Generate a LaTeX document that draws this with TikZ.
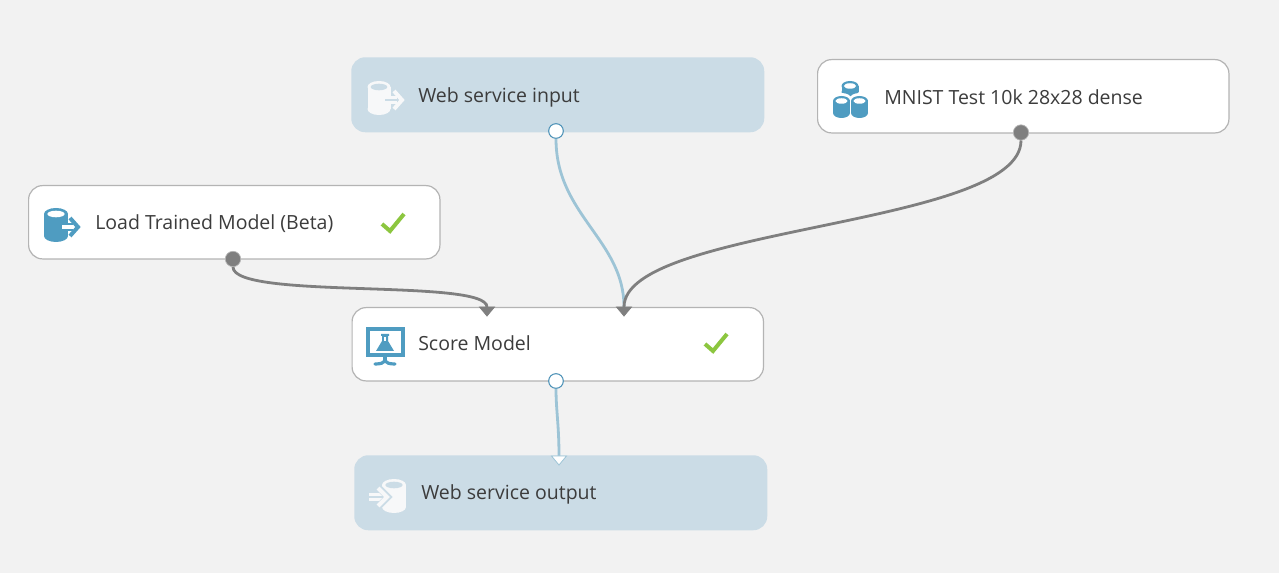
\documentclass[tikz,border=0pt]{standalone}
\usepackage{fontspec}
\setmainfont{Open Sans}
\usetikzlibrary{calc}
\definecolor{canvas}{HTML}{F2F2F2}
\definecolor{pale}{HTML}{CBDCE6}
\definecolor{edge}{HTML}{B4B4B4}
\definecolor{ink}{HTML}{3C3C3C}
\definecolor{iconblue}{HTML}{4F9CC1}
\definecolor{okgreen}{HTML}{8CC63F}
\definecolor{wire}{HTML}{7F7F7F}
\definecolor{lightwire}{HTML}{9DC4D6}
\definecolor{ghost}{HTML}{F7F8F9}
\definecolor{portblue}{HTML}{4F93B8}
\tikzset{
  x=0.75pt,y=-0.75pt,
  whitebox/.style={rectangle,rounded corners=10.5pt,anchor=north west,minimum width=308.5pt,minimum height=55pt,inner sep=0pt,fill=white,draw=edge,line width=0.9pt},
  palebox/.style={rectangle,rounded corners=10.5pt,anchor=north west,minimum width=309.75pt,minimum height=56.25pt,inner sep=0pt,fill=pale},
  label/.style={anchor=base west,inner sep=0pt,text=ink,font=\fontsize{14.63pt}{17pt}\selectfont},
  grayport/.style={circle,fill=wire,draw=edge,line width=0.5pt,minimum size=11.5pt,inner sep=0pt},
  openport/.style={circle,fill=white,draw=portblue,line width=0.8pt,minimum size=11pt,inner sep=0pt},
  wiredark/.style={draw=wire,line width=2.1pt},
  wirelight/.style={draw=lightwire,line width=2.1pt},
  tick/.style={draw=okgreen,line width=3pt}
}
\newcommand{\cyl}[7]{% cx, top, bottom, half-width, ry, body colour, top colour
  \fill[#6] (#1-#4,#2) rectangle (#1+#4,#3);
  \fill[#6] (#1,#2) ellipse [x radius=#4,y radius=#5];
  \fill[#6] (#1,#3) ellipse [x radius=#4,y radius=#5];
  \fill[#7] (#1,#2) ellipse [x radius=#4*0.72,y radius=#5*0.55];
}
\newcommand{\tri}[3]{% name, fill, border
  \path[fill=#2,draw=#3,line width=0.6pt] ($(#1)+(-7.5,0)$) -- ($(#1)+(7.5,0)$) -- ($(#1)+(0,9)$) -- cycle;
}
\newcommand{\okmark}[2]{\draw[tick] (#1-11,#2+1) -- (#1-3,#2+8) -- (#1+11,#2-9);}
\begin{document}
\begin{tikzpicture}
\useasboundingbox (0,0) rectangle (1279,573);
\fill[canvas] (0,0) rectangle (1279,573);

\node[palebox] (wsin) at (351,57) {};
\node[whitebox] (mnist) at (817,59) {};
\node[whitebox] (load) at (28,185) {};
\node[whitebox] (score) at (351.5,307) {};
\node[palebox] (wsout) at (354,455) {};

\node[label] (tin) at (418,103) {Web service input};
\node[label] (tmn) at (884,105) {MNIST Test 10k 28x28 dense};
\node[label] (tlo) at (95,230) {Load Trained Model (Beta)};
\node[label] (tsc) at (418,351) {Score Model};
\node[label] (tou) at (421,500) {Web service output};

% icons: Web service input
\cyl{379}{87}{109}{11.5}{6}{ghost}{pale}
\draw[pale,line width=6pt] (385,100) -- (396,100);
\draw[ghost,line width=2pt] (384,97.5) -- (397,97.5) (384,102.5) -- (397,102.5);
\draw[ghost,line width=3pt,miter limit=3] (394,91) -- (402,100) -- (394,109);
% icons: MNIST
\cyl{850}{86}{92}{8.5}{5}{iconblue}{white}
\fill[white] (841.5,99) ellipse [x radius=10,y radius=6];
\fill[white] (859.5,99) ellipse [x radius=10,y radius=6];
\cyl{841.5}{101}{113}{8.5}{5}{iconblue}{white}
\cyl{859.5}{101}{113}{8.5}{5}{iconblue}{white}
% icons: Load
\cyl{56}{214}{236}{12}{6}{iconblue}{white}
\draw[white,line width=5pt] (61,227) -- (72,227);
\draw[iconblue,line width=1.4pt] (61,224) -- (73,224) (61,230) -- (73,230) (61,224) -- (61,230);
\draw[iconblue,line width=3pt,miter limit=3] (70,218) -- (78,227) -- (70,236);
% icons: Score
\draw[iconblue,line width=3pt] (367.5,329.5) rectangle (402.5,355.5);
\draw[iconblue,line width=2.6pt] (385,356) -- (385,362);
\draw[iconblue,line width=2.4pt,line cap=round] (375,364) .. controls (381,364) and (383,363) .. (385,361) .. controls (387,363) and (389,364) .. (395,364);
\fill[iconblue] (381,334) -- (389,334) -- (389,336) -- (388,336) -- (388,341) -- (394,351) -- (376,351) -- (382,341) -- (382,336) -- (381,336) -- cycle;
\fill[white] (383.6,337) rectangle (386.4,341.5);
% icons: Web service output
\cyl{394}{485}{507}{12}{6}{ghost}{pale}
\draw[pale,line width=6.5pt] (369,497) -- (388,497);
\draw[ghost,line width=2.2pt] (369,494.5) -- (388,494.5) (369,499.5) -- (388,499.5);
\draw[pale,line width=5pt,miter limit=3] (378,487) -- (388,497) -- (378,507);
\draw[ghost,line width=3pt,miter limit=3] (378,488) -- (387,497) -- (378,506);

\okmark{393}{223}
\okmark{716}{343}

% ports
\coordinate (in1) at (487,307);
\coordinate (in2) at (624,307);
\coordinate (in3) at (559,456);
\node[openport] (pin) at (556,131) {};
\node[grayport] (pmn) at (1021,132.5) {};
\node[grayport] (plo) at (233,259) {};
\node[openport] (psc) at (556,381) {};

\draw[wirelight] (pin) .. controls (556,215) and (624,240) .. (in2);
\draw[wiredark] (pmn) .. controls (1021,227) and (624,226) .. (in2);
\draw[wiredark] (plo) .. controls (233,300) and (487,278) .. (in1);
\draw[wirelight] (psc) .. controls (556,410) and (559,425) .. (in3);

\tri{in1}{wire}{wire}
\tri{in2}{wire}{wire}
\tri{in3}{white}{lightwire}
\end{tikzpicture}
\end{document}
